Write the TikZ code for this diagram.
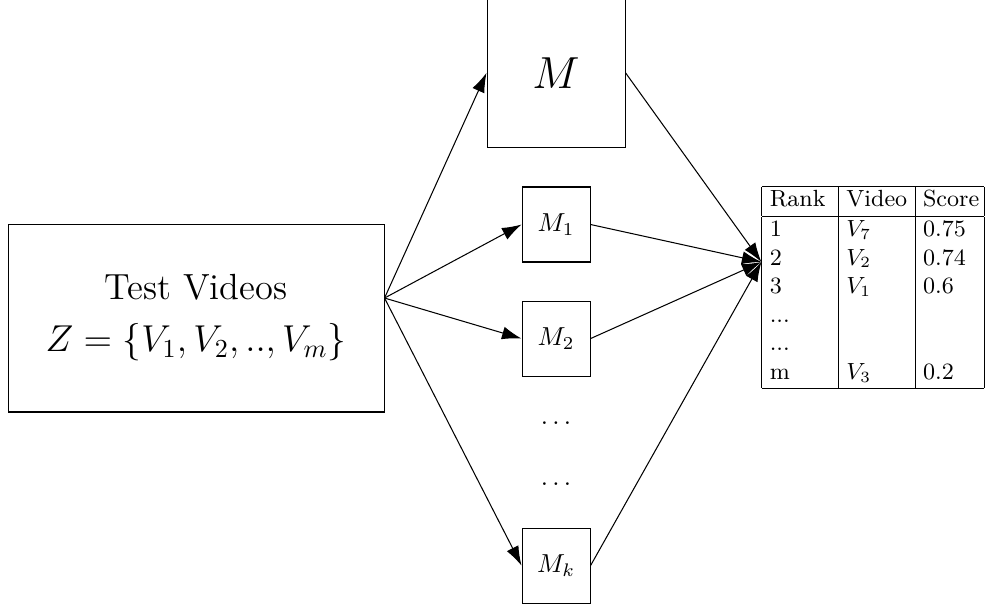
\documentclass[tikz,border=0pt]{standalone}
\usepackage{amsmath,amssymb}
\usepackage{tikz}
\usetikzlibrary{arrows.meta,positioning,calc}
\setlength{\tabcolsep}{3pt}

\begin{document}
\begin{tikzpicture}[
    node distance=0.514cm and 1.852cm,
    vidbox/.style={draw, minimum width=5.083cm, minimum height=2.541cm, align=center,
                   inner sep=0pt, font=\fontsize{14}{20}\selectfont},
    bigbox/.style={draw, minimum width=1.866cm, minimum height=2.03cm, inner sep=0pt,
                   font=\fontsize{17}{20}\selectfont},
    modbox/.style={draw, minimum width=0.919cm, minimum height=1.014cm, inner sep=0pt},
    tbl/.style={inner sep=0pt, font=\small},
    arr/.style={-{Latex[length=7.5pt,width=5pt]}}
]
\useasboundingbox (-2.650,-3.934) rectangle (10.693,4.299);
\node[vidbox] (vids) at (0,0) {Test Videos\\$Z=\{V_1,V_2,..,V_m\}$};
\node[modbox, right=of vids, yshift=1.264cm] (m1) {$M_1$};
\node[bigbox, above=of m1] (m) {$M$};
\node[modbox, below=of m1] (m2) {$M_2$};
\node[modbox, below=2.041cm of m2] (mk) {$M_k$};
\node (dots1) at ($(m2)!0.371!(mk)$) {$\ldots$};
\node (dots2) at ($(m2)!0.640!(mk)$) {$\ldots$};
\node[tbl, right=2.31cm of m1, yshift=-0.852cm] (rank) {%
\begin{tabular}{|p{23.5pt}|p{23.5pt}|p{20.5pt}|}
\hline
Rank & Video & Score \\ \hline
1 & $V_7$ & 0.75 \\
2 & $V_2$ & 0.74 \\
3 & $V_1$ & 0.6 \\
... & & \\
... & & \\
m & $V_3$ & 0.2 \\ \hline
\end{tabular}};
\coordinate (fork) at ([yshift=0.27cm]vids.east);
\coordinate (join) at ([yshift=0.345cm]rank.west);
% split to the models, then gather into the ranking
\foreach \t in {m,m1,m2,mk} \draw[arr] (fork) -- (\t.west);
\foreach \s in {m,m1,m2,mk} \draw[arr] (\s.east) -- (join);
\end{tikzpicture}
\end{document}
